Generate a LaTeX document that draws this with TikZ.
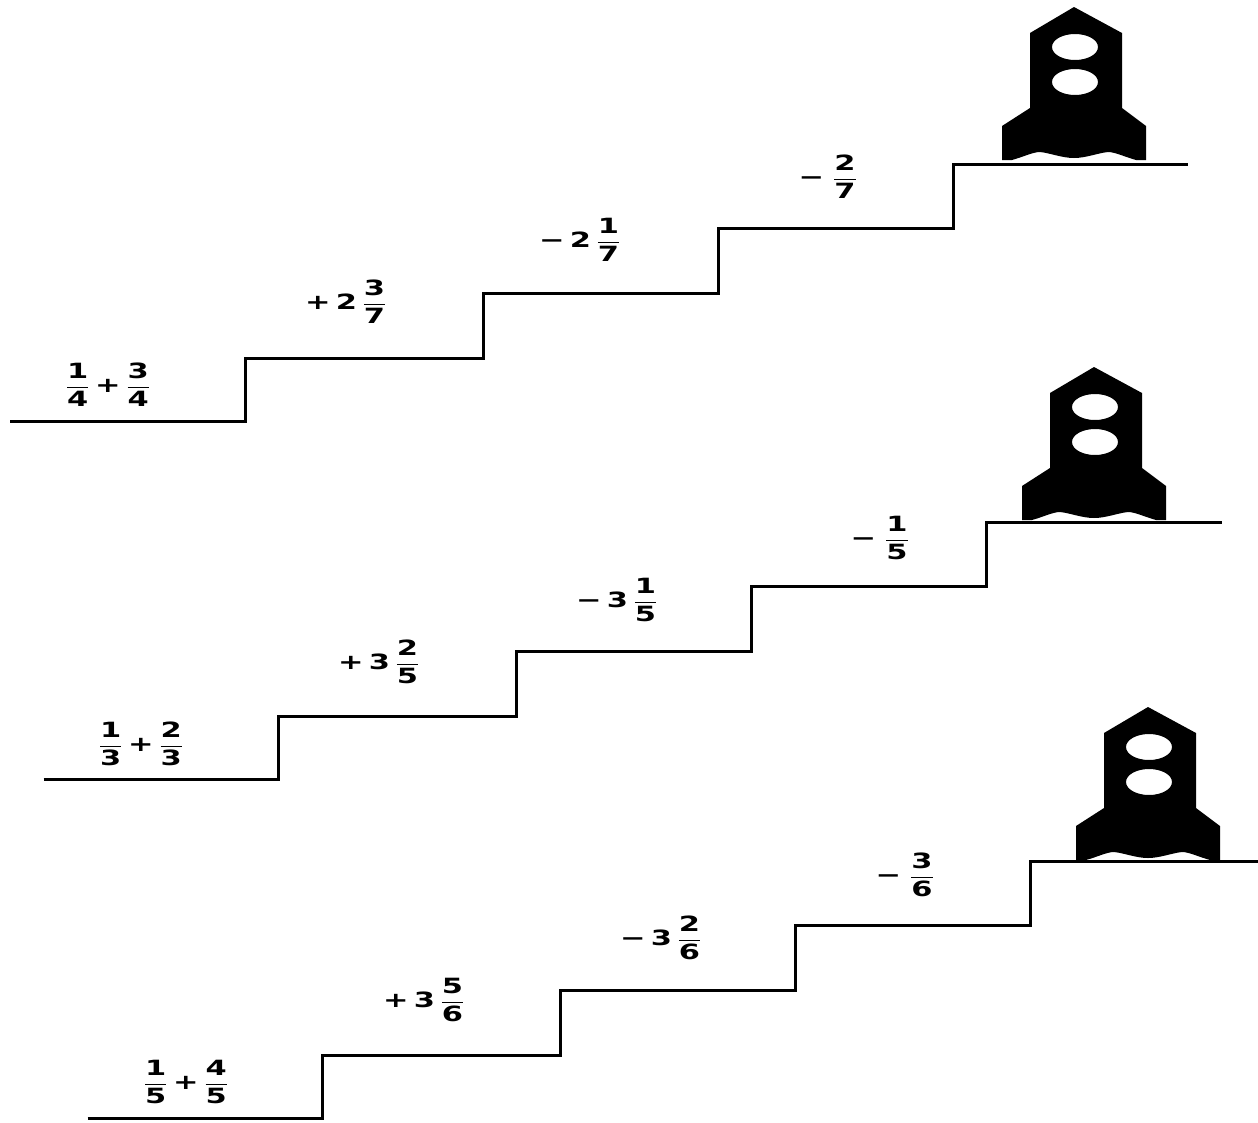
\documentclass[tikz,border=0pt]{standalone}
\usepackage{amsmath}
\usepackage{graphicx}
\usepackage{fontspec}
\setmainfont{DejaVu Sans}
\newcommand\fr[2]{$\dfrac{\text{#1}}{\text{#2}}$}
\newcommand\wide[1]{\scalebox{1.45}[1]{#1}}
\tikzset{
  stairline/.style={line width=3pt,line join=miter},
  sumlabel/.style={font=\fontsize{21}{24}\bfseries,inner sep=0pt},
  rocketbody/.style={fill=black,even odd rule}
}
\newcommand\rocket[2]{
\begin{scope}[shift={(#1,#2)}]
  \fill[rocketbody] (1074,7) -- (1122,33) -- (1122,108) -- (1146,126) -- (1146,160) -- (1136,160)
    .. controls (1125,157) and (1115,152) .. (1108,152)
    .. controls (1098,153) and (1086,158) .. (1074,158)
    .. controls (1062,158) and (1050,153) .. (1040,152)
    .. controls (1033,152) and (1023,157) .. (1012,160)
    -- (1002,160) -- (1002,126) -- (1030,108) -- (1030,33) -- cycle
    (1075,47) ellipse [x radius=23,y radius=13]
    (1075,82) ellipse [x radius=23,y radius=13];
\end{scope}
}
\begin{document}
\begin{tikzpicture}[x=1pt,y=-1pt]
\clip (0,0) rectangle (1258,1122);
% three stairs, same shape
\foreach \n/\sx/\sy in {a/0/0,b/33.5/358.7,c/77.5/697.5}{
  \coordinate (\n0) at (10+\sx,421+\sy);
  \coordinate (\n1) at (245+\sx,421+\sy);
  \coordinate (\n2) at (245+\sx,358+\sy);
  \coordinate (\n3) at (483+\sx,358+\sy);
  \coordinate (\n4) at (483+\sx,293+\sy);
  \coordinate (\n5) at (718+\sx,293+\sy);
  \coordinate (\n6) at (718+\sx,228+\sy);
  \coordinate (\n7) at (953+\sx,228+\sy);
  \coordinate (\n8) at (953+\sx,164+\sy);
  \coordinate (\n9) at (1188+\sx,164+\sy);
  \draw[stairline] (\n0) -- (\n1) -- (\n2) -- (\n3) -- (\n4) -- (\n5) -- (\n6) -- (\n7) -- (\n8) -- (\n9);
}
\rocket{0}{0}
\rocket{20}{360}
\rocket{74}{700}
% top stair
\node[sumlabel] (a1) at (108,385) {\wide{\fr{1}{4}\,+\,\fr{3}{4}}};
\node[sumlabel] (a2) at (346,302) {\wide{+\,2\,\fr{3}{7}}};
\node[sumlabel] (a3) at (580,240) {\wide{−\,2\,\fr{1}{7}}};
\node[sumlabel] (a4) at (828,177) {\wide{−\;\fr{2}{7}}};
% middle stair
\node[sumlabel] (b1) at (141,744) {\wide{\fr{1}{3}\,+\,\fr{2}{3}}};
\node[sumlabel] (b2) at (379,662) {\wide{+\,3\,\fr{2}{5}}};
\node[sumlabel] (b3) at (617,600) {\wide{−\,3\,\fr{1}{5}}};
\node[sumlabel] (b4) at (880,538) {\wide{−\;\fr{1}{5}}};
% bottom stair
\node[sumlabel] (c1) at (186,1082) {\wide{\fr{1}{5}\,+\,\fr{4}{5}}};
\node[sumlabel] (c2) at (424,1000) {\wide{+\,3\,\fr{5}{6}}};
\node[sumlabel] (c3) at (661,938) {\wide{−\,3\,\fr{2}{6}}};
\node[sumlabel] (c4) at (905,875) {\wide{−\;\fr{3}{6}}};
\end{tikzpicture}
\end{document}
